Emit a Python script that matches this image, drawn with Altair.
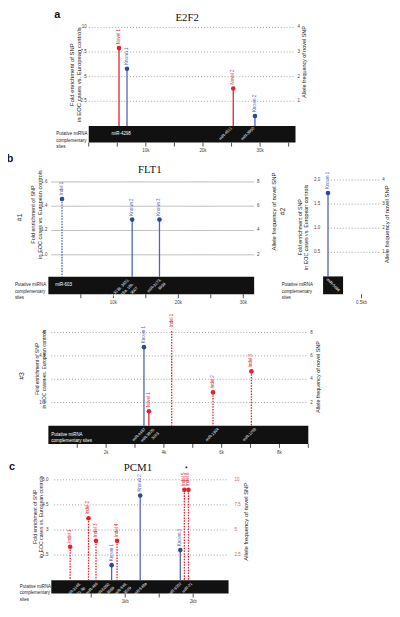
import altair as alt
import pandas as pd

RED = "#e3202e"
BLUE = "#2c4a9a"
BLUE_L = "#4f66b0"
GRAY = "#444444"
FONT = "Liberation Sans"
SERIF = "Liberation Serif"
YTITLE = "Fold enrichment of SNP\nin EOC cases vs. European controls"
RTITLE = "Allele frequency of novel SNP"
PUT3 = "Putative miRNA\ncomplementary\nsites"

# ---------------- panel a : E2F2 ----------------
a_snp = ["Novel 1", "Known 1", "Novel 2", "Known 2"]
a_pos = [5.3, 6.7, 25.3, 29.1]
a_val = [7.9, 5.8, 3.8, 1.0]
a_col = ["red", "blue", "red", "blue"]
a_line = ["solid", "solid", "solid", "solid"]
a_dot = [1, 1, 1, 1]
a_mir_h = ["miR-4298"]
a_mir_h_pos = [4.0]
a_mir_r = ["miR-4511", "miR-3960"]
a_mir_r_pos = [25.0, 28.9]
a_xticks = [0, 5, 10, 15, 20, 25, 30, 35]
a_xlabels = ["", "", "10k", "", "20k", "", "30k", ""]
a_yticks = [2.5, 5, 7.5, 10]
a_ylabels = ["2.5", "5", "7.5", "10"]
a_rticks = [1, 2, 3, 4]
a_rlabels = ["1", "2", "3", "4"]

# ---------------- panel b #1 : FLT1 ----------------
b1_snp = ["Indel 1", "Known 2", "Known 3"]
b1_pos = [2.1, 12.9, 17.1]
b1_val = [1.46, 1.29, 1.29]
b1_col = ["blue", "blue", "blue"]
b1_line = ["dashed", "solid", "solid"]
b1_dot = [1, 1, 1]
b1_mir_h = ["miR-603"]
b1_mir_h_pos = [1.06]
b1_mir_r = ["miR-3136, 3651,\n323, 18a, 18b,\n3607", "miR-3173,\n3939"]
b1_mir_r_pos = [12.2, 17.1]
b1_xticks = [5, 10, 15, 20, 25, 30]
b1_xlabels = ["", "10k", "", "20k", "", "30k"]
b1_yticks = [1.0, 1.2, 1.4, 1.6]
b1_ylabels = ["1.0", "1.2", "1.4", "1.6"]
b1_rticks = [2, 4, 6, 8]
b1_rlabels = ["2", "4", "6", "8"]

# ---------------- panel b #2 ----------------
b2_snp = ["Known 1"]
b2_pos = [0.064]
b2_val = [1.73]
b2_col = ["blue"]
b2_line = ["solid"]
b2_dot = [1]
b2_mir_r = ["miR-5684"]
b2_mir_r_pos = [0.13]
b2_xticks = [0.5]
b2_xlabels = ["0.5kb"]
b2_yticks = [0.5, 1.0, 1.5, 2.0]
b2_ylabels = ["0.5", "1.0", "1.5", "2.0"]
b2_rticks = [1, 2, 3, 4]
b2_rlabels = ["1", "2", "3", "4"]

# ---------------- panel b #3 ----------------
b3_snp = ["Known 1", "Novel 1", "Indel 1", "Indel 2", "Indel 3"]
b3_pos = [3.31, 3.48, 4.27, 5.70, 7.03]
b3_val = [5.06, 0.94, 6.1, 2.15, 3.5]
b3_col = ["blue", "red", "red", "red", "red"]
b3_line = ["solid", "solid", "dashed", "dashed", "dashed"]
b3_dot = [1, 1, 0, 1, 1]
b3_mir_r = ["miR-4487", "miR-3920,\n3163", "miR-1304", "miR-1258"]
b3_mir_r_pos = [3.3, 3.62, 5.84, 7.13]
b3_xticks = [1, 2, 3, 4, 5, 6, 7, 8, 9]
b3_xlabels = ["", "2k", "", "4k", "", "6k", "", "8k", ""]
b3_yticks = [1.5, 3, 4.5, 6]
b3_ylabels = ["1.5", "3", "4.5", "6"]
b3_rticks = [2, 4, 6, 8]
b3_rlabels = ["2", "4", "6", "8"]

# ---------------- panel c : PCM1 ----------------
c_snp = ["Indel 1", "Indel 2", "Indel 3", "Known 1", "Indel 4",
         "Known 2", "Known 3", "Indel 5", "Indel 6"]
c_pos = [0.19, 0.46, 0.57, 0.80, 0.88, 1.22, 1.81, 1.87, 1.93]
c_val = [2.0, 3.7, 2.35, 0.9, 2.35, 5.06, 1.8, 5.4, 5.4]
c_col = ["red", "red", "red", "blue", "red", "blue", "blue", "red", "red"]
c_line = ["dashed", "dashed", "dashed", "solid", "dashed",
          "solid", "solid", "dashed", "dashed"]
c_dot = [1, 1, 1, 1, 1, 1, 1, 1, 1]
c_mir_r = ["miR-3148,\n3121-3p", "miR-466", "miR-5000,\n3689", "miR-548,\n3529",
           "miR-548a", "miR-3202", "miR-21"]
c_mir_r_pos = [0.32, 0.57, 0.75, 1.0, 1.29, 1.8, 1.96]
c_xticks = [0.5, 1.0, 1.5, 2.0]
c_xlabels = ["", "1kb", "", "2kb"]
c_yticks = [1.5, 3, 4.5, 6]
c_ylabels = ["1.5", "3", "4.5", "6.0"]
c_rticks = [2.5, 5, 7.5, 10]
c_rlabels = ["2.5", "5", "7.5", "10"]

OFF = 8  # page margin: chart pixel = page pixel - 8


def px(v):
    return v - OFF


def one(**kw):
    return pd.DataFrame({k: [v] for k, v in kw.items()})


layers = []


def text_at(t, x, y, **kw):
    layers.append(alt.Chart(one(t=t)).mark_text(**kw).encode(
        x=alt.value(px(x)), y=alt.value(px(y)), text="t:N"))


def add_panel(P):
    l, r, t, b = [px(v) for v in P["box"]]
    xs = alt.Scale(domain=P["xdom"], range=[l, r], nice=False, zero=False)
    ys = alt.Scale(domain=P["ydom"], range=[b, t], nice=False, zero=False)
    X = lambda f: alt.X(f, scale=xs, axis=None)
    Y = lambda f: alt.Y(f, scale=ys, axis=None)
    base = P["base"]
    # grid + left labels
    g = pd.DataFrame({"v": P["yticks"], "lab": P["ylabels"]})
    gl, gr = [px(v) for v in P["gridx"]]
    layers.append(alt.Chart(g).mark_rule(strokeWidth=0.8, color=P["gcolor"],
                                         strokeDash=P["gdash"]).encode(
        y=Y("v:Q"), x=alt.value(gl), x2=alt.value(gr)))
    layers.append(alt.Chart(g).mark_text(align="right", baseline="middle", fontSize=4.5,
                                         color=GRAY).encode(
        y=Y("v:Q"), x=alt.value(px(P["ylabx"])), text="lab:N"))
    # right labels on the allele-frequency scale
    k, off = P["rmap"]
    rs = alt.Scale(domain=[P["ydom"][0] * k + off, P["ydom"][1] * k + off],
                   range=[b, t], nice=False, zero=False)
    rg = pd.DataFrame({"v": P["rticks"], "lab": P["rlabels"]})
    layers.append(alt.Chart(rg).mark_text(align="left", baseline="middle", fontSize=4.5,
                                          color=P["rcol"]).encode(
        y=alt.Y("v:Q", scale=rs, axis=None), x=alt.value(px(P["rlabx"])), text="lab:N"))
    # band
    band = pd.DataFrame({"x0": [P["band"][0]], "x1": [P["band"][1]],
                         "y0": [P["ydom"][0]], "y1": [base]})
    layers.append(alt.Chart(band).mark_rect(color="#111111").encode(
        x=X("x0:Q"), x2="x1:Q", y=Y("y0:Q"), y2="y1:Q"))
    # x ticks + labels
    xt = pd.DataFrame({"v": P["xticks"], "lab": P["xlabels"]})
    layers.append(alt.Chart(xt).mark_rule(color="#222", strokeWidth=0.8).encode(
        x=X("v:Q"), y=alt.value(b), y2=alt.value(b + 4)))
    layers.append(alt.Chart(xt).mark_text(fontSize=4.5, color=GRAY, baseline="middle").encode(
        x=X("v:Q"), y=alt.value(b + 9), text="lab:N"))
    # lollipops
    pts = pd.DataFrame({
        "snp": P["snp"], "pos": P["pos"], "val": P["val"],
        "c": [RED if q == "red" else BLUE for q in P["col"]],
        "cl": [RED if q == "red" else BLUE_L for q in P["col"]],
        "line": P["line"], "dot": P["dot"],
    })
    pts["base"] = base
    layers.append(alt.Chart(pts).mark_rule(strokeWidth=1.3).encode(
        x=X("pos:Q"), y=Y("val:Q"), y2="base:Q",
        color=alt.Color("cl:N", scale=None),
        strokeDash=alt.StrokeDash("line:N", scale=alt.Scale(domain=["solid", "dashed"],
                                  range=[[1, 0], [1.6, 1.2]]), legend=None)))
    layers.append(alt.Chart(pts).transform_filter("datum.dot == 1").mark_circle(
        size=22, opacity=1).encode(x=X("pos:Q"), y=Y("val:Q"),
                                   color=alt.Color("c:N", scale=None)))
    layers.append(alt.Chart(pts).mark_text(angle=270, align="left", baseline="middle",
                                           dx=4, fontSize=4.5).encode(
        x=X("pos:Q"), y=Y("val:Q"), text="snp:N", color=alt.Color("cl:N", scale=None)))
    # miRNA labels in the band
    mid = (P["ydom"][0] + base) / 2
    if P.get("mir_h"):
        mh = pd.DataFrame({"t": P["mir_h"], "p": P["mir_h_pos"]})
        mh["y"] = mid
        layers.append(alt.Chart(mh).mark_text(align="left", baseline="middle",
                                              fontSize=4.5, color="white").encode(
            x=X("p:Q"), y=Y("y:Q"), text="t:N"))
    mr = pd.DataFrame({"t": P["mir_r"], "p": P["mir_r_pos"]})
    mr["y"] = P["mir_y"]
    layers.append(alt.Chart(mr).mark_text(angle=P["mir_angle"], align=P["mir_align"],
                                          baseline=P["mir_base"], fontSize=4,
                                          lineBreak="\n", color="white").encode(
        x=X("p:Q"), y=Y("y:Q"), text="t:N"))
    layers.append(alt.Chart(one(t=P["put"], y=mid)).mark_text(
        align="left", baseline="middle", fontSize=4.5, lineBreak="\n",
        color=P["putcol"]).encode(x=alt.value(px(P["putx"])), y=Y("y:Q"), text="t:N"))
    if P.get("star"):
        layers.append(alt.Chart(one(t="*", p=P["star"][0], y=P["star"][1])).mark_text(
            fontSize=7, align="center", baseline="middle").encode(
            x=X("p:Q"), y=Y("y:Q"), text="t:N"))
    # axis titles
    lx, ly, ts, lh = P["ltitle"]
    text_at(YTITLE, lx, ly, angle=270, align="center", baseline="middle", fontSize=ts,
            lineBreak="\n", lineHeight=lh, color="#222")
    rx, ry, rts = P["rtitle"]
    text_at(RTITLE, rx, ry, angle=270, align="center", baseline="middle", fontSize=rts,
            color="#222")
    if P.get("letter"):
        text_at(P["letter"], *P["letxy"], fontSize=11, fontWeight="bold", align="center",
                baseline="middle", color="#111")
    if P.get("title"):
        text_at(P["title"], *P["titxy"], fontSize=11, font=SERIF, align="center",
                baseline="middle", color="#111")
    if P.get("tag"):
        text_at(P["tag"], *P["tagxy"], fontSize=7, angle=270, align="center",
                baseline="middle", color="#333")


dot = [1, 2]
add_panel(dict(snp=a_snp, pos=a_pos, val=a_val, col=a_col, line=a_line, dot=a_dot,
               mir_h=a_mir_h, mir_h_pos=a_mir_h_pos, mir_r=a_mir_r, mir_r_pos=a_mir_r_pos,
               mir_y=-0.2, mir_angle=315, mir_align="right", mir_base="middle",
               box=(90, 300, 20, 140), gridx=(90, 300), ylabx=88, rlabx=302,
               xdom=[0, 36.2], band=[0, 36.2], ydom=[-1.7, 10.3], base=0,
               xticks=a_xticks, xlabels=a_xlabels, yticks=a_yticks, ylabels=a_ylabels,
               rticks=a_rticks, rlabels=a_rlabels, rmap=(0.4, 0), rcol=GRAY,
               gdash=dot, gcolor="#888",
               ltitle=(73.5, 71, 6, 6.5), rtitle=(309, 58, 5.5),
               put=PUT3, putcol="#222", putx=57, letter="a", letxy=(58, 10),
               title="E2F2", titxy=(190, 13)))
add_panel(dict(snp=b1_snp, pos=b1_pos, val=b1_val, col=b1_col, line=b1_line, dot=b1_dot,
               mir_h=b1_mir_h, mir_h_pos=b1_mir_h_pos, mir_r=b1_mir_r, mir_r_pos=b1_mir_r_pos,
               mir_y=0.81, mir_angle=315, mir_align="right", mir_base="top",
               box=(49, 258, 176, 294), gridx=(52, 258), ylabx=48, rlabx=261,
               xdom=[0, 31.67], band=[0, 31.67], ydom=[0.675, 1.632], base=0.82,
               xticks=b1_xticks, xlabels=b1_xlabels, yticks=b1_yticks, ylabels=b1_ylabels,
               rticks=b1_rticks, rlabels=b1_rlabels, rmap=(10, -8), rcol=GRAY,
               gdash=[1, 0], gcolor="#aaa",
               ltitle=(33.5, 213, 5.6, 6.8), rtitle=(278, 210, 6),
               put=PUT3, putcol="#222", putx=15, letter="b", letxy=(10, 157),
               tag="#1", tagxy=(20, 216), title="FLT1", titxy=(152, 168)))
add_panel(dict(snp=b2_snp, pos=b2_pos, val=b2_val, col=b2_col, line=b2_line, dot=b2_dot,
               mir_r=b2_mir_r, mir_r_pos=b2_mir_r_pos,
               mir_y=-0.18, mir_angle=45, mir_align="center", mir_base="middle",
               box=(328, 385, 176, 294), gridx=(333, 385), ylabx=325, rlabx=388,
               xdom=[0, 0.73], band=[0, 0.26], ydom=[-0.37, 2.04], base=0,
               xticks=b2_xticks, xlabels=b2_xlabels, yticks=b2_yticks, ylabels=b2_ylabels,
               rticks=b2_rticks, rlabels=b2_rlabels, rmap=(2, 0), rcol=GRAY,
               gdash=dot, gcolor="#888",
               ltitle=(304.5, 226, 5.4, 6.4), rtitle=(393, 223, 6),
               put=PUT3, putcol="#222", putx=286, tag="#2", tagxy=(287, 210)))
add_panel(dict(snp=b3_snp, pos=b3_pos, val=b3_val, col=b3_col, line=b3_line, dot=b3_dot,
               mir_r=b3_mir_r, mir_r_pos=b3_mir_r_pos,
               mir_y=-0.1, mir_angle=315, mir_align="right", mir_base="top",
               box=(49, 313, 316, 446), gridx=(52, 313), ylabx=46, rlabx=315,
               xdom=[0, 9.0], band=[0, 9.0], ydom=[-1.16, 7.07], base=0,
               xticks=b3_xticks, xlabels=b3_xlabels, yticks=b3_yticks, ylabels=b3_ylabels,
               rticks=b3_rticks, rlabels=b3_rlabels, rmap=(4 / 3, 0), rcol=GRAY,
               gdash=dot, gcolor="#888",
               ltitle=(37.5, 370, 5, 7), rtitle=(323, 378, 5.5),
               put="Putative miRNA\ncomplementary sites", putcol="white", putx=52,
               tag="#3", tagxy=(22, 377)))
add_panel(dict(snp=c_snp, pos=c_pos, val=c_val, col=c_col, line=c_line, dot=c_dot,
               mir_r=c_mir_r, mir_r_pos=c_mir_r_pos,
               mir_y=-0.1, mir_angle=315, mir_align="right", mir_base="top",
               box=(52, 232, 476, 598), gridx=(55, 232), ylabx=49, rlabx=238,
               xdom=[-0.087, 2.52], band=[-0.087, 2.52], ydom=[-0.8, 6.38], base=0,
               xticks=c_xticks, xlabels=c_xlabels, yticks=c_yticks, ylabels=c_ylabels,
               rticks=c_rticks, rlabels=c_rlabels, rmap=(10 / 6, 0), rcol="#e0505e",
               gdash=dot, gcolor="#888",
               ltitle=(35.8, 520, 5.2, 5.6), rtitle=(250, 525, 6),
               put=PUT3, putcol="#222", putx=20, letter="c", letxy=(12, 470),
               star=(1.9, 6.65), title="PCM1", titxy=(140, 471)))

chart = alt.layer(*layers).resolve_scale(x="independent", y="independent").properties(
    width=390, height=604, autosize="none", padding=0
).configure(font=FONT).configure_view(stroke=None)

chart.save("out.html", embed_options={"renderer": "svg", "actions": False})
